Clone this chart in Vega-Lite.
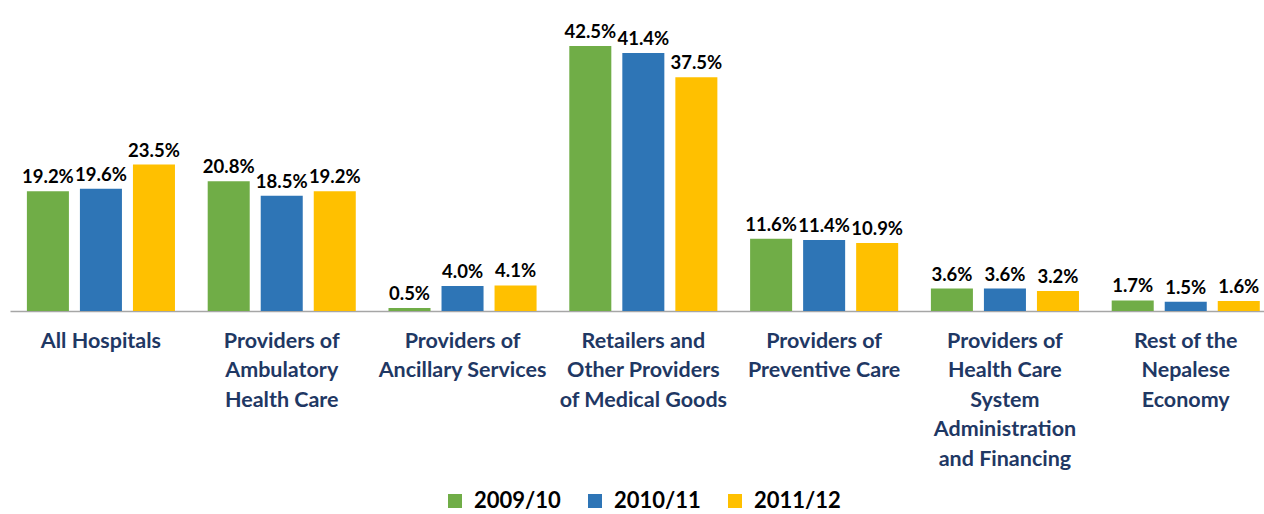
{
  "$schema": "https://vega.github.io/schema/vega-lite/v6.json",
  "width": 1254,
  "height": 311,
  "autosize": {"type": "none"},
  "padding": {"left": 10, "top": 0, "right": 0, "bottom": 203},
  "background": "white",
  "config": {"view": {"stroke": null}, "font": "Lato"},
  "data": {
    "values": [
      {"category": "All Hospitals", "year": "2009/10", "share": 0.192},
      {"category": "All Hospitals", "year": "2010/11", "share": 0.196},
      {"category": "All Hospitals", "year": "2011/12", "share": 0.235},
      {"category": "Providers of|Ambulatory|Health Care", "year": "2009/10", "share": 0.208},
      {"category": "Providers of|Ambulatory|Health Care", "year": "2010/11", "share": 0.185},
      {"category": "Providers of|Ambulatory|Health Care", "year": "2011/12", "share": 0.192},
      {"category": "Providers of|Ancillary Services", "year": "2009/10", "share": 0.005},
      {"category": "Providers of|Ancillary Services", "year": "2010/11", "share": 0.040},
      {"category": "Providers of|Ancillary Services", "year": "2011/12", "share": 0.041},
      {"category": "Retailers and|Other Providers|of Medical Goods", "year": "2009/10", "share": 0.425},
      {"category": "Retailers and|Other Providers|of Medical Goods", "year": "2010/11", "share": 0.414},
      {"category": "Retailers and|Other Providers|of Medical Goods", "year": "2011/12", "share": 0.375},
      {"category": "Providers of|Preventive Care", "year": "2009/10", "share": 0.116},
      {"category": "Providers of|Preventive Care", "year": "2010/11", "share": 0.114},
      {"category": "Providers of|Preventive Care", "year": "2011/12", "share": 0.109},
      {"category": "Providers of|Health Care|System|Administration|and Financing", "year": "2009/10", "share": 0.036},
      {"category": "Providers of|Health Care|System|Administration|and Financing", "year": "2010/11", "share": 0.036},
      {"category": "Providers of|Health Care|System|Administration|and Financing", "year": "2011/12", "share": 0.032},
      {"category": "Rest of the|Nepalese|Economy", "year": "2009/10", "share": 0.017},
      {"category": "Rest of the|Nepalese|Economy", "year": "2010/11", "share": 0.015},
      {"category": "Rest of the|Nepalese|Economy", "year": "2011/12", "share": 0.016}
    ]
  },
  "encoding": {
    "x": {
      "field": "category",
      "type": "nominal",
      "sort": null,
      "scale": {"paddingInner": 0.181, "paddingOuter": 0.0584, "align": 0.8},
      "axis": {
        "title": null,
        "labelAngle": 0,
        "labelExpr": "split(datum.value, '|')",
        "labelFont": "Lato",
        "labelFontWeight": "bold",
        "labelFontSize": 21.5,
        "labelLineHeight": 29.5,
        "labelColor": "#1F3864",
        "labelPadding": 19,
        "labelLimit": 300,
        "ticks": false,
        "domainColor": "#A6A6A6",
        "domainWidth": 1.5
      }
    },
    "xOffset": {
      "field": "year",
      "type": "nominal",
      "scale": {"paddingInner": 0.2075, "paddingOuter": 0}
    },
    "y": {
      "field": "share",
      "type": "quantitative",
      "scale": {"domain": [0, 0.499], "nice": false},
      "axis": null
    }
  },
  "layer": [
    {
      "mark": {"type": "bar"},
      "encoding": {
        "color": {
          "field": "year",
          "type": "nominal",
          "scale": {"domain": ["2009/10", "2010/11", "2011/12"], "range": ["#70AD47", "#2E75B6", "#FFC000"]},
          "legend": {
            "title": null,
            "orient": "none",
            "direction": "horizontal",
            "legendX": 434,
            "legendY": 490,
            "symbolType": "square",
            "symbolSize": 196,
            "symbolStrokeWidth": 0,
            "symbolOpacity": 1,
            "labelFont": "Lato",
            "labelFontWeight": "bold",
            "labelFontSize": 22,
            "labelColor": "#000000",
            "labelOffset": 8,
            "columnPadding": 23
          }
        }
      }
    },
    {
      "mark": {"type": "text", "baseline": "alphabetic", "dy": -8, "font": "Lato", "fontWeight": "bold", "fontSize": 18.5, "color": "#000000"},
      "encoding": {
        "text": {"field": "share", "type": "quantitative", "format": ".1%"},
        "detail": {"field": "year"}
      }
    }
  ]
}
